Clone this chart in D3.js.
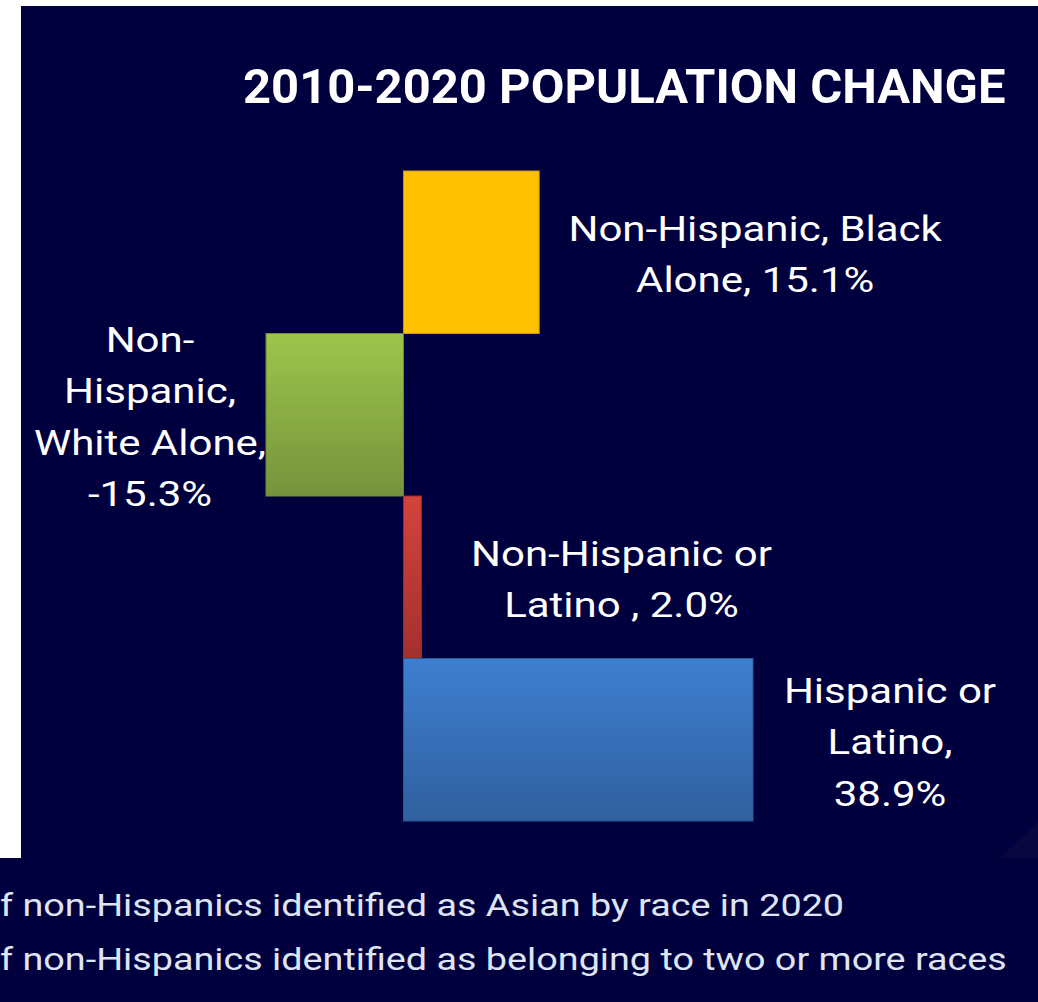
<!DOCTYPE html>
<meta charset="utf-8">
<style>
    body {
        margin: 0;
        background-color: #ffffff;
        overflow: hidden;
    }
    text {
        font-family: Roboto, "Noto Sans", sans-serif;
    }
</style>
<body>
<svg width="1038" height="1002"></svg>
<script src="https://cdnjs.cloudflare.com/ajax/libs/d3/7.8.5/d3.min.js"></script>
<script>
    // chart data
    var categories = ["Non-Hispanic, Black Alone", "Non-Hispanic, White Alone", "Non-Hispanic or Latino", "Hispanic or Latino"];
    var values = [15.1, -15.3, 2.0, 38.9];
    var labelLines = [
        ["Non-Hispanic, Black", "Alone, 15.1%"],
        ["Non-", "Hispanic,", "White Alone,", "-15.3%"],
        ["Non-Hispanic or", "Latino , 2.0%"],
        ["Hispanic or", "Latino,", "38.9%"]
    ];
    var title = "2010-2020 POPULATION CHANGE";
    var notes = [
        "f non-Hispanics identified as Asian by race in 2020",
        "f non-Hispanics identified as belonging to two or more races"
    ];

    var colors = [
        ["#FFC000", "#FFC000", "#c99a10"],
        ["#9dc54b", "#76933c", "#6f8a38"],
        ["#d4433b", "#a3302e", "#9a2c2a"],
        ["#3e7fd0", "#30609f", "#2d5a96"]
    ];
    // label centre offsets from bar end (px)
    var labelDx = [216, -116, 200, 137];

    var svg = d3.select("svg");
    var bg = "#00003e";

    // panels
    svg.append("rect").attr("x", 21).attr("y", 6).attr("width", 1017).attr("height", 853).attr("fill", bg);
    svg.append("rect").attr("x", 0).attr("y", 858).attr("width", 1038).attr("height", 144).attr("fill", bg);
    svg.append("polygon")
        .attr("points", "1000,858 1038,822 1038,858")
        .attr("fill", "#090740");

    var defs = svg.append("defs");
    colors.forEach(function(c, i) {
        var g = defs.append("linearGradient")
            .attr("id", "grad" + i)
            .attr("x1", 0).attr("y1", 0).attr("x2", 0).attr("y2", 1);
        g.append("stop").attr("offset", "0%").attr("stop-color", c[0]);
        g.append("stop").attr("offset", "100%").attr("stop-color", c[1]);
    });

    var x = d3.scaleLinear()
        .domain([d3.min(values), d3.max(values)])
        .range([266, 753]);
    var y = d3.scaleBand()
        .domain(categories)
        .range([171, 821])
        .padding(0);

    var data = categories.map(function(c, i) {
        return { name: c, value: values[i], lines: labelLines[i], idx: i };
    });

    svg.selectAll(".bar")
        .data(data)
        .enter().append("rect")
        .attr("class", "bar")
        .attr("x", function(d) { return x(Math.min(0, d.value)); })
        .attr("width", function(d) { return Math.abs(x(d.value) - x(0)); })
        .attr("y", function(d) { return y(d.name); })
        .attr("height", y.bandwidth())
        .attr("fill", function(d) { return "url(#grad" + d.idx + ")"; })
        .attr("stroke", function(d) { return colors[d.idx][2]; })
        .attr("stroke-width", 1);

    // the slide text is stretched sideways a little
    var lineH = 51.5;
    var labels = svg.selectAll(".label")
        .data(data)
        .enter().append("text")
        .attr("class", "label")
        .attr("fill", "#ffffff")
        .attr("font-size", 35)
        .attr("text-anchor", "middle")
        .attr("transform", function(d) {
            return "translate(" + (x(d.value) + labelDx[d.idx]) + ",0) scale(1.2,1)";
        });

    labels.each(function(d) {
        var t = d3.select(this);
        var cy = y(d.name) + y.bandwidth() / 2 + 2;
        var first = cy - (d.lines.length - 1) * lineH / 2 + 12.5;
        d.lines.forEach(function(l, k) {
            t.append("tspan")
                .attr("x", 0)
                .attr("y", first + k * lineH)
                .text(l);
        });
    });

    svg.append("text")
        .attr("transform", "translate(243,103) scale(1.02,1)")
        .attr("fill", "#ffffff")
        .attr("font-size", 48)
        .attr("font-weight", "bold")
        .text(title);

    svg.selectAll(".note")
        .data(notes)
        .enter().append("text")
        .attr("class", "note")
        .attr("transform", function(d, i) { return "translate(0," + (916 + i * 54) + ") scale(1.18,1)"; })
        .attr("fill", "#dfe4f2")
        .attr("font-size", 32)
        .text(function(d) { return d; });
</script>
</body>
